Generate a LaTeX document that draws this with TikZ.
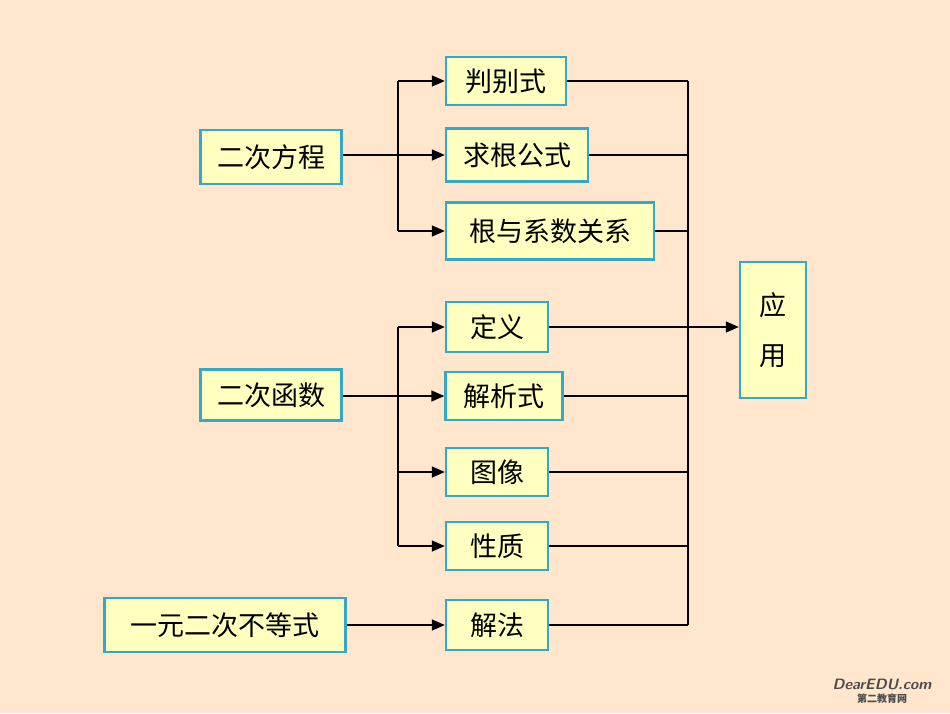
\documentclass[tikz,border=0pt]{standalone}
\usepackage{fontspec}
\newfontfamily\cjk{Noto Sans CJK SC}
\usetikzlibrary{arrows.meta}
\definecolor{bgpeach}{HTML}{FFE6CC}
\definecolor{boxfill}{HTML}{FFFFC0}
\definecolor{boxline}{HTML}{33A8C8}
\tikzset{
  box/.style={draw=boxline, line width=2.4pt, fill=boxfill, inner sep=0pt,
    font=\cjk\fontsize{27}{30}\selectfont},
  link/.style={line width=1.4pt},
  tip/.style={link, -{Triangle[length=13pt,width=11pt]}}
}
\begin{document}
\begin{tikzpicture}[x=1pt,y=-1pt]
    % background
    \fill[bgpeach] (0,0) rectangle (950,713);
    \useasboundingbox (0,0) rectangle (950,713);

    % left column
    \node[box, minimum width=141pt, minimum height=54pt] (fc) at (271,157) {二次方程};
    \node[box, minimum width=141pt, minimum height=51pt] (hs) at (271,395) {二次函数};
    \node[box, minimum width=241pt, minimum height=54pt] (bd) at (225,625) {一元二次不等式};

    % middle column
    \node[box, minimum width=120pt, minimum height=48pt] (pbs) at (506,81) {判别式};
    \node[box, minimum width=142pt, minimum height=53pt] (qg) at (517,155) {求根公式};
    \node[box, minimum width=208pt, minimum height=57pt] (gx) at (550,231) {根与系数关系};
    \node[box, minimum width=102pt, minimum height=50pt] (dy) at (497,327) {定义};
    \node[box, minimum width=117pt, minimum height=48pt] (jx) at (504,396) {解析式};
    \node[box, minimum width=102pt, minimum height=48pt] (tx) at (497,472) {图像};
    \node[box, minimum width=102pt, minimum height=48pt] (xz) at (497,546) {性质};
    \node[box, minimum width=102pt, minimum height=50pt] (jf) at (497,625) {解法};

    % right
    \node[box, minimum width=66pt, minimum height=136pt, align=center] (yy) at (773,330) {应\\[20pt]用};

    % first group
    \coordinate (t1) at (398,0);
    \draw[link] (pbs.west -| t1) -- (gx.west -| t1);
    \foreach \n in {pbs,gx}
        \draw[tip] (\n.west -| t1) -- (\n.west);
    \draw[tip] (fc.east |- qg.west) -- (qg.west);

    % second group
    \draw[link] (dy.west -| t1) -- (xz.west -| t1);
    \foreach \n in {dy,tx,xz}
        \draw[tip] (\n.west -| t1) -- (\n.west);
    \draw[tip] (hs.east |- jx.west) -- (jx.west);

    % third
    \draw[tip] (bd.east) -- (jf.west);

    % bus to 应用
    \coordinate (t2) at (688,0);
    \draw[link] (pbs.east -| t2) -- (jf.east -| t2);
    \foreach \n in {pbs,qg,gx,jx,tx,xz,jf}
        \draw[link] (\n.east) -- (\n.east -| t2);
    \draw[tip] (dy.east) -- (dy.east -| yy.west);

    % watermark
    \node[font=\sffamily\bfseries\itshape\fontsize{15}{15}\selectfont, text=gray!60!black, align=center, inner sep=0pt] (wm) at (882,691)
        {DearEDU.com\\[-2pt]{\cjk\bfseries\fontsize{10}{10}\selectfont 第二教育网}};
\end{tikzpicture}
\end{document}
